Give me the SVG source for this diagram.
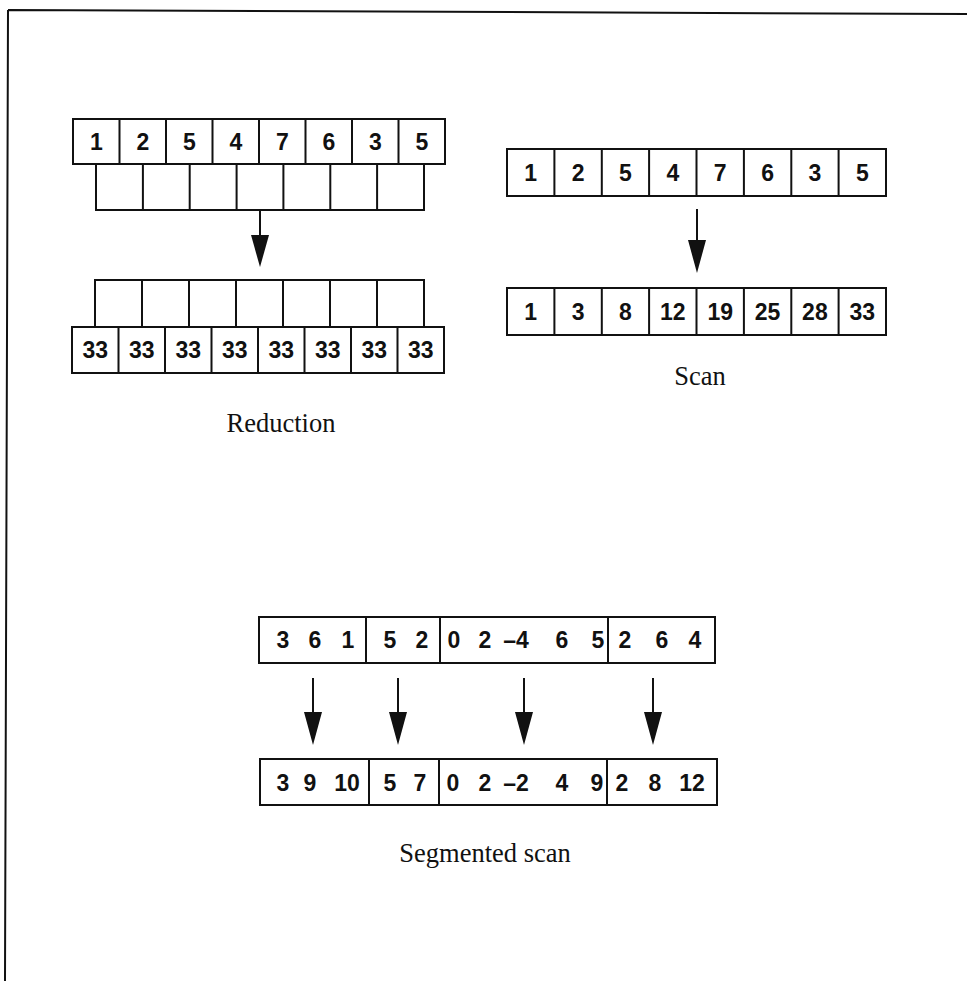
<svg xmlns="http://www.w3.org/2000/svg" width="967" height="981" viewBox="0 0 967 981">
<style>
.box{fill:#fff;stroke:#111;stroke-width:2}
.div{stroke:#111;stroke-width:2}
.n{font-family:"Liberation Sans",Arial,sans-serif;font-weight:bold;font-size:23px;fill:#111;text-anchor:middle}
.lbl{font-family:"Liberation Serif","Times New Roman",serif;font-size:26.5px;fill:#111;text-anchor:middle}
.frame{fill:none;stroke:#111;stroke-width:2}
.ln{stroke:#111;stroke-width:2}
.hd{fill:#111}
</style>
<g id="frame"><path class="frame" d="M8,10 L967,14 M8,10 L5,981"/></g>

<g id="red-in">
<rect class="box" x="73" y="119" width="372" height="45"/>
<path class="div" d="M119.5,119V164M166,119V164M212.5,119V164M259,119V164M305.5,119V164M352,119V164M398.5,119V164"/>
<text class="n" x="96.3" y="150">1</text><text class="n" x="142.8" y="150">2</text><text class="n" x="189.3" y="150">5</text><text class="n" x="235.8" y="150">4</text><text class="n" x="282.3" y="150">7</text><text class="n" x="328.8" y="150">6</text><text class="n" x="375.3" y="150">3</text><text class="n" x="421.8" y="150">5</text>
</g>
<g id="red-tree-top">
<rect class="box" x="96" y="164" width="328" height="46"/>
<path class="div" d="M142.9,164V210M189.7,164V210M236.6,164V210M283.4,164V210M330.3,164V210M377.1,164V210"/>
</g>
<g id="red-tree-bottom">
<rect class="box" x="95" y="280" width="329" height="47"/>
<path class="div" d="M142,280V327M189,280V327M236,280V327M283,280V327M330,280V327M377,280V327"/>
</g>
<g id="red-out">
<rect class="box" x="72" y="327" width="372" height="46"/>
<path class="div" d="M118.5,327V373M165,327V373M211.5,327V373M258,327V373M304.5,327V373M351,327V373M397.5,327V373"/>
<text class="n" x="95.3" y="358">33</text><text class="n" x="141.8" y="358">33</text><text class="n" x="188.3" y="358">33</text><text class="n" x="234.8" y="358">33</text><text class="n" x="281.3" y="358">33</text><text class="n" x="327.8" y="358">33</text><text class="n" x="374.3" y="358">33</text><text class="n" x="420.8" y="358">33</text>
</g>
<text id="label-reduction" class="lbl" x="281" y="432">Reduction</text>

<g id="scan-in">
<rect class="box" x="507" y="149" width="379" height="47"/>
<path class="div" d="M554.4,149V196M601.8,149V196M649.1,149V196M696.5,149V196M743.9,149V196M791.3,149V196M838.6,149V196"/>
<text class="n" x="530.7" y="181">1</text><text class="n" x="578.1" y="181">2</text><text class="n" x="625.4" y="181">5</text><text class="n" x="672.8" y="181">4</text><text class="n" x="720.2" y="181">7</text><text class="n" x="767.6" y="181">6</text><text class="n" x="814.9" y="181">3</text><text class="n" x="862.3" y="181">5</text>
</g>
<g id="scan-out">
<rect class="box" x="507" y="288" width="379" height="47"/>
<path class="div" d="M554.4,288V335M601.8,288V335M649.1,288V335M696.5,288V335M743.9,288V335M791.3,288V335M838.6,288V335"/>
<text class="n" x="530.7" y="320">1</text><text class="n" x="578.1" y="320">3</text><text class="n" x="625.4" y="320">8</text><text class="n" x="672.8" y="320">12</text><text class="n" x="720.2" y="320">19</text><text class="n" x="767.6" y="320">25</text><text class="n" x="814.9" y="320">28</text><text class="n" x="862.3" y="320">33</text>
</g>
<text id="label-scan" class="lbl" x="700" y="385">Scan</text>

<g id="seg-in">
<rect class="box" x="259" y="617" width="456" height="46"/>
<path class="div" d="M366,617V663M440,617V663M608,617V663"/>
<text class="n" x="283" y="648">3</text><text class="n" x="315" y="648">6</text><text class="n" x="348" y="648">1</text>
<text class="n" x="390" y="648">5</text><text class="n" x="422" y="648">2</text>
<text class="n" x="454" y="648">0</text><text class="n" x="485" y="648">2</text><text class="n" x="516" y="648">–4</text><text class="n" x="562" y="648">6</text><text class="n" x="598" y="648">5</text>
<text class="n" x="625" y="648">2</text><text class="n" x="662" y="648">6</text><text class="n" x="695" y="648">4</text>
</g>
<g id="seg-out">
<rect class="box" x="260" y="759" width="457" height="46"/>
<path class="div" d="M369,759V805M439,759V805M607,759V805"/>
<text class="n" x="283" y="791">3</text><text class="n" x="310" y="791">9</text><text class="n" x="347" y="791">10</text>
<text class="n" x="390" y="791">5</text><text class="n" x="420" y="791">7</text>
<text class="n" x="453" y="791">0</text><text class="n" x="485" y="791">2</text><text class="n" x="516" y="791">–2</text><text class="n" x="562" y="791">4</text><text class="n" x="597" y="791">9</text>
<text class="n" x="622" y="791">2</text><text class="n" x="655" y="791">8</text><text class="n" x="692" y="791">12</text>
</g>
<text id="label-seg" class="lbl" x="485" y="862">Segmented scan</text>

<g id="connectors">
<line class="ln" x1="260" y1="210" x2="260" y2="237"/><polygon class="hd" points="251,235 269,235 260,267"/>
<line class="ln" x1="697" y1="209" x2="697" y2="242"/><polygon class="hd" points="688,240 706,240 697,273"/>
<line class="ln" x1="313" y1="678" x2="313" y2="714"/><polygon class="hd" points="304,712 322,712 313,745"/>
<line class="ln" x1="398" y1="678" x2="398" y2="714"/><polygon class="hd" points="389,712 407,712 398,745"/>
<line class="ln" x1="524" y1="678" x2="524" y2="714"/><polygon class="hd" points="515,712 533,712 524,745"/>
<line class="ln" x1="653" y1="678" x2="653" y2="714"/><polygon class="hd" points="644,712 662,712 653,745"/>
</g>
</svg>
